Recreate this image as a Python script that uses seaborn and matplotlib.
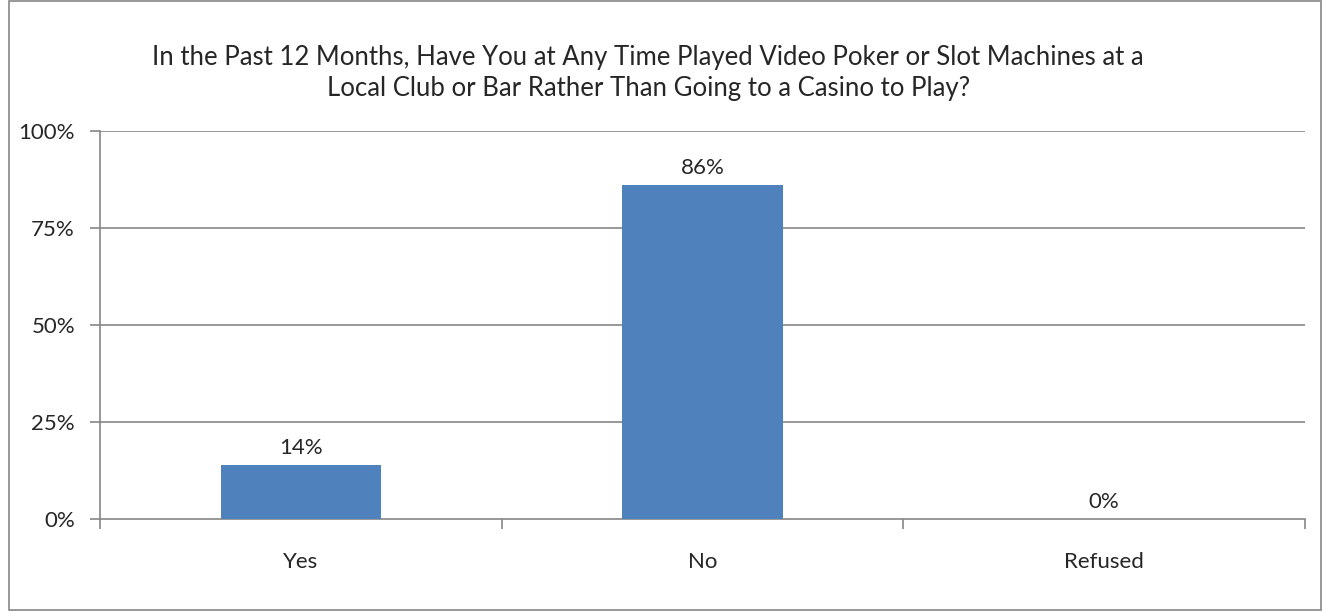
import matplotlib
matplotlib.use("Agg")
import matplotlib.pyplot as plt
import seaborn as sns
import pandas as pd
from matplotlib.patches import Rectangle

categories = ["Yes", "No", "Refused"]
percents = [14, 86, 0]
y_ticks = [0, 25, 50, 75, 100]
title = ("In the Past 12 Months, Have You at Any Time Played Video Poker or Slot Machines at a\n"
         "Local Club or Bar Rather Than Going to a Casino to Play?")

sns.set_style("white")
plt.rcParams['font.family'] = ['Lato', 'DejaVu Sans']

df = pd.DataFrame({"answer": categories, "pct": percents})

fig = plt.figure(figsize=(13.28, 6.11), dpi=100)
ax = fig.add_axes([0.0753, 0.1506, 0.9074, 0.635])

sns.barplot(data=df, x="answer", y="pct", color="#4F81BD", width=0.4,
            saturation=1, linewidth=0, ax=ax, zorder=3)

grid_col = "#868686"
lab_size = 16
ax.set_ylim(0, 100)
ax.set_xlim(-0.5, 2.5)
ax.set_yticks(y_ticks)
ax.set_yticklabels([f"{t}%" for t in y_ticks], fontsize=lab_size)
for t in y_ticks[1:]:
    ax.axhline(t, color=grid_col, lw=1.2, zorder=1)

# category boundary ticks on x axis, labels in the middle
ax.set_xticks([-0.5, 0.5, 1.5, 2.5], minor=False)
ax.set_xticklabels([])
ax.set_xticks([0, 1, 2], minor=True)
ax.set_xticklabels(categories, minor=True, fontsize=lab_size)
ax.tick_params(axis="x", which="major", bottom=True, length=7, color=grid_col,
               width=1.2, direction="out")
ax.tick_params(axis="x", which="minor", bottom=True, length=0, pad=24)
ax.tick_params(axis="y", left=True, length=7, color=grid_col, width=1.2,
               direction="out", pad=11)
ax.set_xlabel("")
ax.set_ylabel("")

for s in ["top", "right"]:
    ax.spines[s].set_visible(False)
for s in ["left", "bottom"]:
    ax.spines[s].set_color(grid_col)
    ax.spines[s].set_linewidth(1.2)

for i, v in enumerate(percents):
    ax.annotate(f"{v}%", (i, v), xytext=(0, 5), textcoords="offset points",
                ha="center", va="bottom", fontsize=lab_size)

fig.text(0.488, 0.88, title, ha="center", va="center", fontsize=18.5, linespacing=1.3)

fig.patches.append(Rectangle((0.007, 0.002), 0.988, 0.996, transform=fig.transFigure,
                             fill=False, edgecolor=grid_col, lw=1.2))

fig.savefig("out.png", dpi=100)
